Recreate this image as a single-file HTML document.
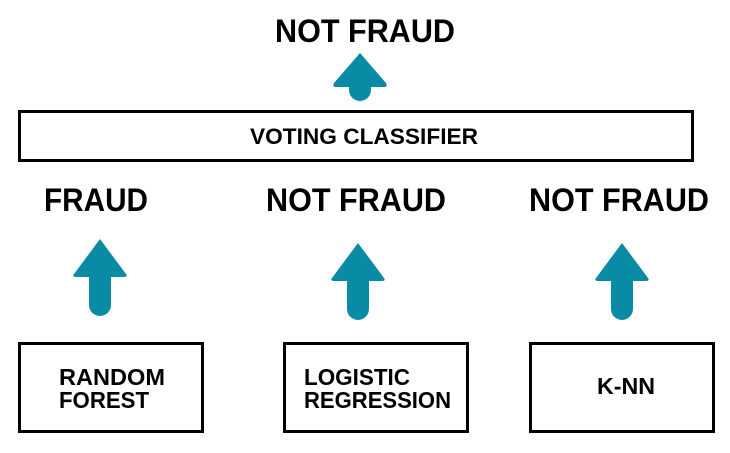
<!DOCTYPE html>
<html><head><meta charset="utf-8"><style>
html,body{margin:0;padding:0;background:#fff;}
svg{display:block;}
text{font-family:"Liberation Sans",sans-serif;font-weight:bold;fill:#000;}
</style></head><body>
<svg width="730" height="453" viewBox="0 0 730 453">
<defs>
<g id="arr">
<path d="M0,0 L-26,35 Q-28,38 -24,38 L-11,38 L-11,66 A11,11 0 0 0 11,66 L11,38 L24,38 Q28,38 26,35 Z" fill="#0a8ba5"/>
</g>
</defs>
<text x="365" y="42" font-size="32" text-anchor="middle" textLength="180" lengthAdjust="spacingAndGlyphs">NOT FRAUD</text>
<path d="M360,55 L334,85 Q332,89 336,89 L349,89 L349,92 A11,11 0 0 0 371,92 L371,89 L384,89 Q388,89 386,85 Z" fill="#0a8ba5" transform="translate(0,-2)"/>
<rect x="19.5" y="111.5" width="673" height="49" fill="none" stroke="#000" stroke-width="3"/>
<text x="364" y="144" font-size="22" text-anchor="middle" textLength="228" lengthAdjust="spacingAndGlyphs">VOTING CLASSIFIER</text>
<text x="44" y="211" font-size="32" textLength="104" lengthAdjust="spacingAndGlyphs">FRAUD</text>
<text x="266" y="211" font-size="32" textLength="180" lengthAdjust="spacingAndGlyphs">NOT FRAUD</text>
<text x="529" y="211" font-size="32" textLength="180" lengthAdjust="spacingAndGlyphs">NOT FRAUD</text>
<use href="#arr" x="100" y="239"/>
<use href="#arr" x="358" y="243"/>
<use href="#arr" x="622" y="243"/>
<rect x="19.5" y="343.5" width="183" height="88" fill="none" stroke="#000" stroke-width="3"/>
<rect x="284.5" y="343.5" width="183" height="88" fill="none" stroke="#000" stroke-width="3"/>
<rect x="530.5" y="343.5" width="183" height="88" fill="none" stroke="#000" stroke-width="3"/>
<text x="59" y="385" font-size="23" textLength="106" lengthAdjust="spacingAndGlyphs">RANDOM</text>
<text x="59" y="408" font-size="23" textLength="90" lengthAdjust="spacingAndGlyphs">FOREST</text>
<text x="304" y="385" font-size="23" textLength="106" lengthAdjust="spacingAndGlyphs">LOGISTIC</text>
<text x="304" y="408" font-size="23" textLength="147" lengthAdjust="spacingAndGlyphs">REGRESSION</text>
<text x="597" y="394" font-size="23" textLength="58" lengthAdjust="spacingAndGlyphs">K-NN</text>
</svg>
</body></html>
